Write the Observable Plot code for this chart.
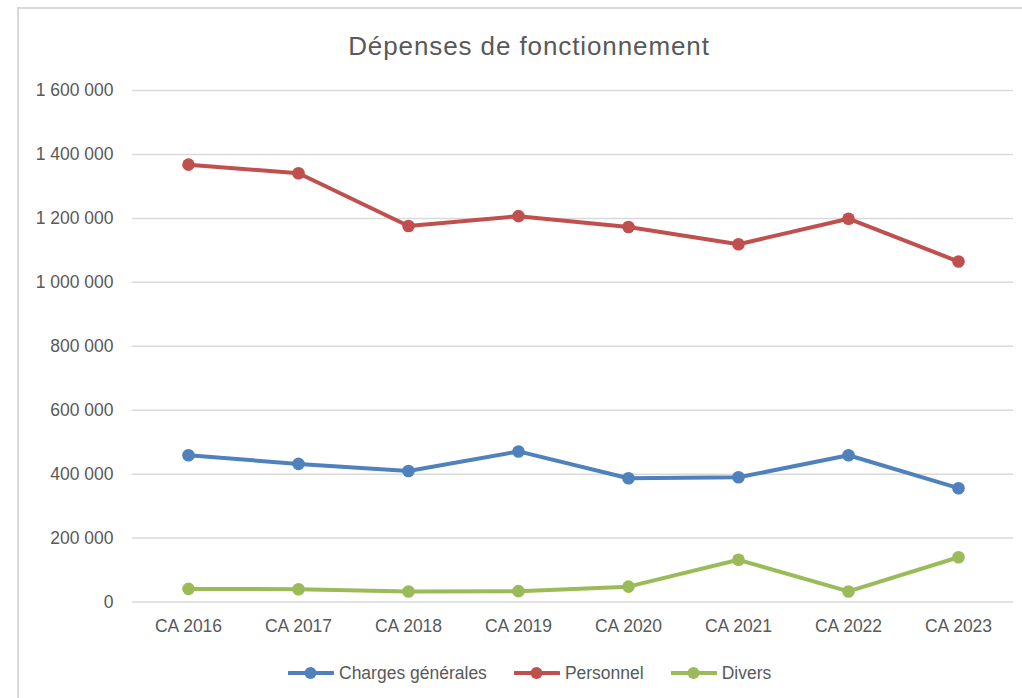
<!DOCTYPE html>
<html>
<head>
<meta charset="utf-8">
<script src="https://cdn.jsdelivr.net/npm/d3@7"></script>
<script src="https://cdn.jsdelivr.net/npm/@observablehq/plot@0.6"></script>
<style>
  html, body { margin: 0; padding: 0; background: #fff; overflow: hidden; }
  body { width: 1022px; height: 698px; position: relative; font-family: "Liberation Sans", Arial, sans-serif; color: #595959; }
  #frame { position: absolute; left: 17px; top: 7px; width: 1200px; height: 900px; border: 2px solid #d9d9d9; box-sizing: border-box; pointer-events: none; }
  #title { position: relative; height: 70px; }
  #title span { position: absolute; left: 0; width: 1058px; top: 33px; text-align: center; font-size: 26px; line-height: 26px; letter-spacing: 0.9px; color: #595959; white-space: nowrap; }
  #chart { position: relative; height: 580px; }
  #chart svg { display: block; }
  #legend { position: relative; height: 46px; display: flex; align-items: center; padding-left: 288px; font-size: 17.5px; color: #595959; }
  .item { display: flex; align-items: center; margin-right: 27px; }
  .item svg { margin-right: 5px; display: block; }
</style>
</head>
<body>
<div id="frame"></div>
<div id="title"><span>Dépenses de fonctionnement</span></div>
<div id="chart"></div>
<div id="legend"></div>
<script>
const categories = ["CA 2016", "CA 2017", "CA 2018", "CA 2019", "CA 2020", "CA 2021", "CA 2022", "CA 2023"];
const seriesNames = ["Charges générales", "Personnel", "Divers"];
const seriesColors = ["#4F81BD", "#C0504D", "#9BBB59"];
const chargesGenerales = [459000, 432000, 410000, 471000, 387000, 390000, 459000, 356000];
const personnel = [1368000, 1341000, 1176000, 1207000, 1173000, 1119000, 1199000, 1065000];
const divers = [41000, 40000, 33000, 34000, 48000, 132000, 33000, 140000];
const yTicks = [0, 200000, 400000, 600000, 800000, 1000000, 1200000, 1400000, 1600000];

const seriesValues = [chargesGenerales, personnel, divers];
const data = [];
seriesNames.forEach((s, i) => {
  categories.forEach((c, j) => data.push({category: c, series: s, value: seriesValues[i][j]}));
});

const fmt = d => d3.format(",")(d).replace(/,/g, "\u00a0");

const chart = Plot.plot({
  width: 1022,
  height: 580,
  marginLeft: 132,
  marginRight: 9,
  marginTop: 20,
  marginBottom: 48.5,
  style: {fontFamily: "Liberation Sans, Arial, sans-serif", fontSize: "17.5px", color: "#595959", background: "transparent", overflow: "visible"},
  x: {type: "point", domain: categories, padding: 0.5, label: null},
  y: {domain: [0, 1600000], label: null},
  color: {domain: seriesNames, range: seriesColors},
  marks: [
    Plot.gridY(yTicks, {stroke: "#d9d9d9", strokeOpacity: 1, strokeWidth: 1.5}),
    Plot.axisY(yTicks, {tickSize: 0, tickPadding: 19, tickFormat: fmt, fill: "#595959", label: null}),
    Plot.axisX({tickSize: 0, tickPadding: 18, label: null, fill: "#595959"}),
    Plot.line(data, {x: "category", y: "value", z: "series", stroke: "series", strokeWidth: 4, strokeLinejoin: "round", strokeLinecap: "round"}),
    Plot.dot(data, {x: "category", y: "value", fill: "series", r: 6.3})
  ]
});
document.getElementById("chart").appendChild(chart);

const legend = document.getElementById("legend");
seriesNames.forEach((s, i) => {
  const item = document.createElement("div");
  item.className = "item";
  item.innerHTML = `<svg width="46" height="14" viewBox="0 0 46 14"><line x1="1" y1="7" x2="45" y2="7" stroke="${seriesColors[i]}" stroke-width="4" stroke-linecap="round"/><circle cx="22.5" cy="7" r="6" fill="${seriesColors[i]}"/></svg><span>${s}</span>`;
  legend.appendChild(item);
});
</script>
</body>
</html>
